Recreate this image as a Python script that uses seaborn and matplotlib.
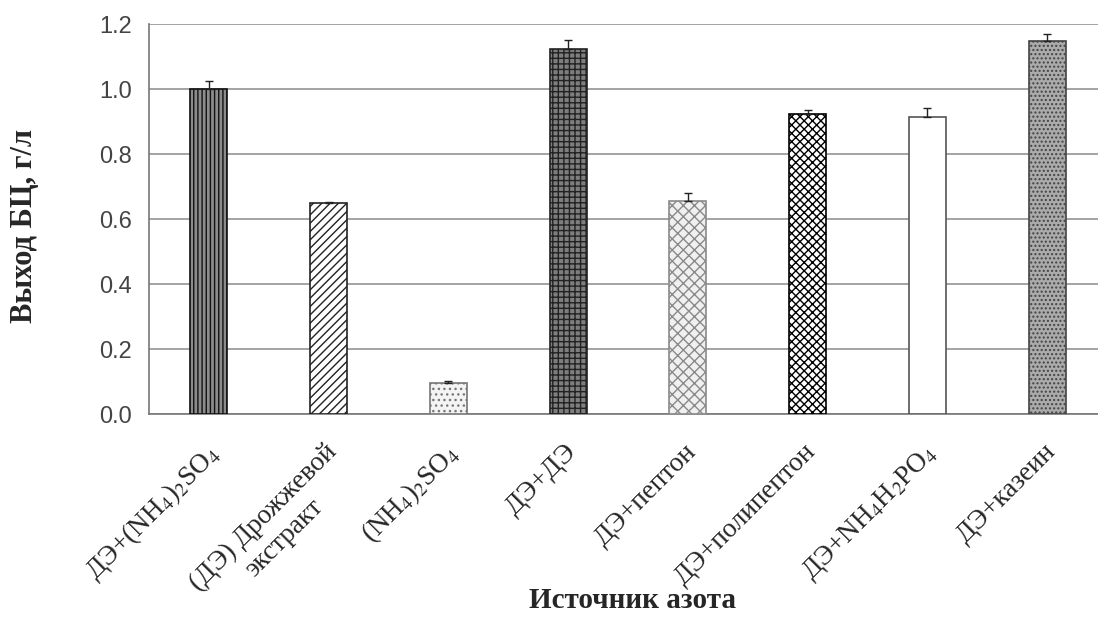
import numpy as np
import pandas as pd
import matplotlib
matplotlib.use("Agg")
import matplotlib.pyplot as plt
import matplotlib.transforms as mtransforms
import seaborn as sns

# Nitrogen source categories and bacterial cellulose yield (g/L)
sources = [
    "ДЭ+(NH$_4$)$_2$SO$_4$",
    "(ДЭ) Дрожжевой\nэкстракт",
    "(NH$_4$)$_2$SO$_4$",
    "ДЭ+ДЭ",
    "ДЭ+пептон",
    "ДЭ+полипептон",
    "ДЭ+NH$_4$H$_2$PO$_4$",
    "ДЭ+казеин",
]
yield_gl = [1.00, 0.650, 0.097, 1.125, 0.658, 0.925, 0.915, 1.150]
yield_err = [0.025, 0.005, 0.006, 0.028, 0.023, 0.012, 0.028, 0.020]
y_ticks = [0.0, 0.2, 0.4, 0.6, 0.8, 1.0, 1.2]

# Fill styles for each bar (face colour, hatch, edge colour)
faces = ["#8c8c8c", "#ffffff", "#f4f4f4", "#7e7e7e", "#f0f0f0", "#ffffff", "#ffffff", "#ababab"]
hatches = ["||||", "////", "...", "+++", "xxx", "xxxx", "", "...."]
edges = ["#111111", "#222222", "#777777", "#222222", "#8a8a8a", "#000000", "#555555", "#444444"]

sns.set_style("white")
plt.rcParams["font.family"] = ["Liberation Serif", "DejaVu Serif"]
plt.rcParams["mathtext.fontset"] = "stix"
plt.rcParams["hatch.linewidth"] = 1.0

df = pd.DataFrame({"source": sources, "yield": yield_gl})

fig = plt.figure(figsize=(10.98, 6.36), dpi=100)
ax = fig.add_axes([0.1357, 0.3483, 0.8725, 0.6132])

sns.barplot(data=df, x="source", y="yield", ax=ax, width=0.31,
            color="white", errorbar=None, zorder=3)

for patch, fc, h, ec in zip(ax.patches, faces, hatches, edges):
    patch.set_facecolor(fc)
    patch.set_edgecolor(ec)
    patch.set_hatch(h)
    patch.set_linewidth(1.2)

xpos = np.arange(len(sources))
ax.errorbar(xpos, yield_gl, yerr=[np.zeros(len(yield_err)), yield_err],
            fmt="none", ecolor="#222222", elinewidth=1.0, capsize=3,
            capthick=1.0, zorder=4)

ax.set_ylim(0, 1.2)
ax.set_xlim(-0.5, len(sources) - 0.5)
ax.set_yticks(y_ticks)
ax.set_yticklabels([f"{v:.1f}" for v in y_ticks],
                   fontfamily="Liberation Sans", fontsize=17, color="#444444")
ax.yaxis.grid(True, color="#8a8a8a", linewidth=1.1, zorder=0)
ax.set_axisbelow(True)

# Category boundary ticks on the x axis
ax.set_xticks(xpos)
ax.set_xticks(np.arange(len(sources) + 1) - 0.5, minor=True)
ax.tick_params(axis="x", which="major", length=0, pad=18)
ax.tick_params(axis="x", which="minor", length=6, direction="out", color="#777777", width=1.2)
ax.tick_params(axis="y", length=9, direction="inout", color="#777777", width=1.2, pad=8)

shift = mtransforms.ScaledTranslation(-4 / 100, 0, fig.dpi_scale_trans)
ax.set_xticklabels(sources, rotation=45, ha="right", va="top",
                   rotation_mode="anchor", fontsize=19.5, multialignment="center")
for lbl in ax.get_xticklabels():
    lbl.set_transform(lbl.get_transform() + shift)

for side in ["top", "right"]:
    ax.spines[side].set_visible(False)
for side in ["left", "bottom"]:
    ax.spines[side].set_color("#777777")
    ax.spines[side].set_linewidth(1.2)

ax.set_xlabel("Источник азота", fontsize=21, fontweight="bold")
ax.xaxis.set_label_coords(0.505, -0.476)
ax.xaxis.label.set_va("center")
ax.set_ylabel("Выход БЦ, г/л", fontsize=22, fontweight="bold")
ax.yaxis.set_label_coords(-0.130, 0.483)
ax.yaxis.label.set_va("center")

fig.savefig("out.png", dpi=100)
